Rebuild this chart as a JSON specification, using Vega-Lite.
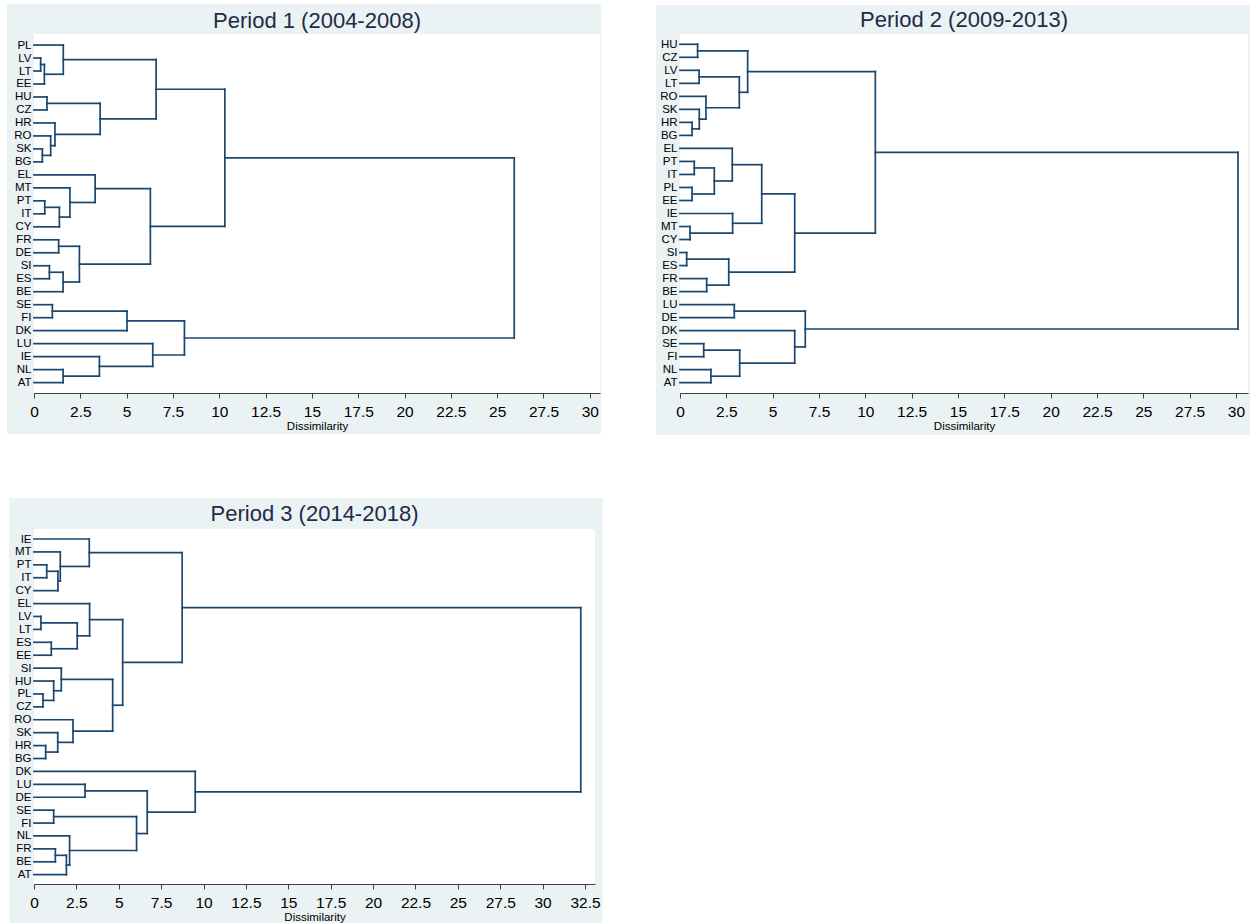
{
  "$schema": "https://vega.github.io/schema/vega-lite/v6.json",
  "background": "#ffffff",
  "padding": {"left": 7, "top": 4, "right": 0, "bottom": 0},
  "datasets": {
    "p1": [
      {"h": 0.36, "y1": 2, "h1": 0, "y2": 3, "h2": 0},
      {"h": 0.56, "y1": 2.5, "h1": 0.36, "y2": 4, "h2": 0},
      {"h": 1.58, "y1": 1, "h1": 0, "y2": 3.25, "h2": 0.56},
      {"h": 0.70, "y1": 5, "h1": 0, "y2": 6, "h2": 0},
      {"h": 0.45, "y1": 9, "h1": 0, "y2": 10, "h2": 0},
      {"h": 0.90, "y1": 8, "h1": 0, "y2": 9.5, "h2": 0.45},
      {"h": 1.13, "y1": 7, "h1": 0, "y2": 8.75, "h2": 0.90},
      {"h": 3.57, "y1": 5.5, "h1": 0.70, "y2": 7.875, "h2": 1.13},
      {"h": 6.59, "y1": 2.125, "h1": 1.58, "y2": 6.6875, "h2": 3.57},
      {"h": 0.58, "y1": 13, "h1": 0, "y2": 14, "h2": 0},
      {"h": 1.37, "y1": 13.5, "h1": 0.58, "y2": 15, "h2": 0},
      {"h": 1.94, "y1": 12, "h1": 0, "y2": 14.25, "h2": 1.37},
      {"h": 3.30, "y1": 11, "h1": 0, "y2": 13.125, "h2": 1.94},
      {"h": 1.33, "y1": 16, "h1": 0, "y2": 17, "h2": 0},
      {"h": 0.83, "y1": 18, "h1": 0, "y2": 19, "h2": 0},
      {"h": 1.57, "y1": 18.5, "h1": 0.83, "y2": 20, "h2": 0},
      {"h": 2.45, "y1": 16.5, "h1": 1.33, "y2": 19.25, "h2": 1.57},
      {"h": 6.28, "y1": 12.0625, "h1": 3.30, "y2": 17.875, "h2": 2.45},
      {"h": 10.30, "y1": 4.40625, "h1": 6.59, "y2": 14.96875, "h2": 6.28},
      {"h": 0.99, "y1": 21, "h1": 0, "y2": 22, "h2": 0},
      {"h": 5.02, "y1": 21.5, "h1": 0.99, "y2": 23, "h2": 0},
      {"h": 1.57, "y1": 26, "h1": 0, "y2": 27, "h2": 0},
      {"h": 3.53, "y1": 25, "h1": 0, "y2": 26.5, "h2": 1.57},
      {"h": 6.41, "y1": 24, "h1": 0, "y2": 25.75, "h2": 3.53},
      {"h": 8.12, "y1": 22.25, "h1": 5.02, "y2": 24.875, "h2": 6.41},
      {"h": 25.92, "y1": 9.6875, "h1": 10.30, "y2": 23.5625, "h2": 8.12}
    ],
    "p2": [
      {"h": 0.95, "y1": 1, "h1": 0, "y2": 2, "h2": 0},
      {"h": 1.03, "y1": 3, "h1": 0, "y2": 4, "h2": 0},
      {"h": 0.65, "y1": 7, "h1": 0, "y2": 8, "h2": 0},
      {"h": 1.04, "y1": 6, "h1": 0, "y2": 7.5, "h2": 0.65},
      {"h": 1.40, "y1": 5, "h1": 0, "y2": 6.75, "h2": 1.04},
      {"h": 3.20, "y1": 3.5, "h1": 1.03, "y2": 5.875, "h2": 1.40},
      {"h": 3.65, "y1": 1.5, "h1": 0.95, "y2": 4.6875, "h2": 3.20},
      {"h": 0.77, "y1": 10, "h1": 0, "y2": 11, "h2": 0},
      {"h": 0.65, "y1": 12, "h1": 0, "y2": 13, "h2": 0},
      {"h": 1.85, "y1": 10.5, "h1": 0.77, "y2": 12.5, "h2": 0.65},
      {"h": 2.82, "y1": 9, "h1": 0, "y2": 11.5, "h2": 1.85},
      {"h": 0.54, "y1": 15, "h1": 0, "y2": 16, "h2": 0},
      {"h": 2.84, "y1": 14, "h1": 0, "y2": 15.5, "h2": 0.54},
      {"h": 4.41, "y1": 10.25, "h1": 2.82, "y2": 14.75, "h2": 2.84},
      {"h": 0.36, "y1": 17, "h1": 0, "y2": 18, "h2": 0},
      {"h": 1.44, "y1": 19, "h1": 0, "y2": 20, "h2": 0},
      {"h": 2.63, "y1": 17.5, "h1": 0.36, "y2": 19.5, "h2": 1.44},
      {"h": 6.19, "y1": 12.5, "h1": 4.41, "y2": 18.5, "h2": 2.63},
      {"h": 10.54, "y1": 3.09375, "h1": 3.65, "y2": 15.5, "h2": 6.19},
      {"h": 2.93, "y1": 21, "h1": 0, "y2": 22, "h2": 0},
      {"h": 1.28, "y1": 24, "h1": 0, "y2": 25, "h2": 0},
      {"h": 1.67, "y1": 26, "h1": 0, "y2": 27, "h2": 0},
      {"h": 3.22, "y1": 24.5, "h1": 1.28, "y2": 26.5, "h2": 1.67},
      {"h": 6.19, "y1": 23, "h1": 0, "y2": 25.5, "h2": 3.22},
      {"h": 6.76, "y1": 21.5, "h1": 2.93, "y2": 24.25, "h2": 6.19},
      {"h": 30.11, "y1": 9.296875, "h1": 10.54, "y2": 22.875, "h2": 6.76}
    ],
    "p3": [
      {"h": 0.75, "y1": 3, "h1": 0, "y2": 4, "h2": 0},
      {"h": 1.41, "y1": 3.5, "h1": 0.75, "y2": 5, "h2": 0},
      {"h": 1.55, "y1": 2, "h1": 0, "y2": 4.25, "h2": 1.41},
      {"h": 3.26, "y1": 1, "h1": 0, "y2": 3.125, "h2": 1.55},
      {"h": 0.41, "y1": 7, "h1": 0, "y2": 8, "h2": 0},
      {"h": 1.02, "y1": 9, "h1": 0, "y2": 10, "h2": 0},
      {"h": 2.55, "y1": 7.5, "h1": 0.41, "y2": 9.5, "h2": 1.02},
      {"h": 3.28, "y1": 6, "h1": 0, "y2": 8.5, "h2": 2.55},
      {"h": 0.53, "y1": 13, "h1": 0, "y2": 14, "h2": 0},
      {"h": 1.16, "y1": 12, "h1": 0, "y2": 13.5, "h2": 0.53},
      {"h": 1.61, "y1": 11, "h1": 0, "y2": 12.75, "h2": 1.16},
      {"h": 0.69, "y1": 17, "h1": 0, "y2": 18, "h2": 0},
      {"h": 1.40, "y1": 16, "h1": 0, "y2": 17.5, "h2": 0.69},
      {"h": 2.30, "y1": 15, "h1": 0, "y2": 16.75, "h2": 1.40},
      {"h": 4.64, "y1": 11.875, "h1": 1.61, "y2": 15.875, "h2": 2.30},
      {"h": 5.23, "y1": 7.25, "h1": 3.28, "y2": 13.875, "h2": 4.64},
      {"h": 8.74, "y1": 2.0625, "h1": 3.26, "y2": 10.5625, "h2": 5.23},
      {"h": 3.01, "y1": 20, "h1": 0, "y2": 21, "h2": 0},
      {"h": 1.16, "y1": 22, "h1": 0, "y2": 23, "h2": 0},
      {"h": 1.26, "y1": 25, "h1": 0, "y2": 26, "h2": 0},
      {"h": 1.91, "y1": 25.5, "h1": 1.26, "y2": 27, "h2": 0},
      {"h": 2.10, "y1": 24, "h1": 0, "y2": 26.25, "h2": 1.91},
      {"h": 6.05, "y1": 22.5, "h1": 1.16, "y2": 25.125, "h2": 2.10},
      {"h": 6.68, "y1": 20.5, "h1": 3.01, "y2": 23.8125, "h2": 6.05},
      {"h": 9.51, "y1": 19, "h1": 0, "y2": 22.15625, "h2": 6.68},
      {"h": 32.25, "y1": 6.3125, "h1": 8.74, "y2": 20.578125, "h2": 9.51}
    ]
  },
  "columns": 2,
  "align": "none",
  "spacing": {"row": 61, "column": 53},
  "concat": [
    {
      "width": 566, "height": 359,
      "title": {"text": "Period 1 (2004-2008)", "offset": -28.5, "zindex": 1},
      "layer": [
        {"data": {"values": [{}]}, "mark": {"type": "rect", "color": "#eaf2f3"},
         "encoding": {
           "x": {"datum": -1.457, "type": "quantitative", "scale": {"domain": [0, 30.55], "nice": false, "zero": false},
                 "axis": {"values": [0, 2.5, 5, 7.5, 10, 12.5, 15, 17.5, 20, 22.5, 25, 27.5, 30], "tickCount": 40, "labelExpr": "toString(datum.value)", "title": "Dissimilarity", "zindex": 1,
                          "grid": false, "tickSize": 5, "tickColor": "#404040", "domainColor": "#404040", "labelFont": "Liberation Sans", "labelFontSize": 15.5, "labelColor": "#000000", "labelPadding": 6, "labelFlush": false, "labelOverlap": false,
                          "titleFont": "Liberation Sans", "titleFontSize": 11.5, "titleFontWeight": "normal", "titleColor": "#000000", "titlePadding": 1}},
           "x2": {"datum": 30.6},
           "y": {"datum": -2.16, "type": "quantitative", "scale": {"domain": [0.15, 27.8], "nice": false, "zero": false, "reverse": true},
                 "axis": {"values": [1,2,3,4,5,6,7,8,9,10,11,12,13,14,15,16,17,18,19,20,21,22,23,24,25,26,27], "tickCount": 40, "title": null, "zindex": 1,
                          "grid": false, "ticks": false, "domain": false, "labelFont": "Liberation Sans", "labelFontSize": 11.5, "labelColor": "#000000", "labelPadding": 3, "labelOverlap": false,
                          "labelExpr": "['PL','LV','LT','EE','HU','CZ','HR','RO','SK','BG','EL','MT','PT','IT','CY','FR','DE','SI','ES','BE','SE','FI','DK','LU','IE','NL','AT'][datum.value-1]"}},
           "y2": {"datum": 30.96}}},
        {"data": {"values": [{}]}, "mark": {"type": "rect", "color": "#ffffff"},
         "encoding": {
           "x": {"datum": 0, "type": "quantitative", "scale": {"domain": [0, 30.55], "nice": false, "zero": false}},
           "x2": {"datum": 30.55},
           "y": {"datum": 0.15, "type": "quantitative", "scale": {"domain": [0.15, 27.8], "nice": false, "zero": false, "reverse": true}},
           "y2": {"datum": 27.8}}},
        {"data": {"name": "p1"}, "mark": {"type": "rule"},
         "encoding": {
           "x": {"field": "h", "type": "quantitative", "scale": {"domain": [0, 30.55], "nice": false, "zero": false}},
           "y": {"field": "y1", "type": "quantitative", "scale": {"domain": [0.15, 27.8], "nice": false, "zero": false, "reverse": true}},
           "y2": {"field": "y2"}}},
        {"data": {"name": "p1"}, "mark": {"type": "rule"},
         "encoding": {
           "x": {"field": "h1", "type": "quantitative", "scale": {"domain": [0, 30.55], "nice": false, "zero": false}},
           "x2": {"field": "h"},
           "y": {"field": "y1", "type": "quantitative", "scale": {"domain": [0.15, 27.8], "nice": false, "zero": false, "reverse": true}}}},
        {"data": {"name": "p1"}, "mark": {"type": "rule"},
         "encoding": {
           "x": {"field": "h2", "type": "quantitative", "scale": {"domain": [0, 30.55], "nice": false, "zero": false}},
           "x2": {"field": "h"},
           "y": {"field": "y2", "type": "quantitative", "scale": {"domain": [0.15, 27.8], "nice": false, "zero": false, "reverse": true}}}}
      ]
    },
    {
      "width": 568, "height": 359,
      "title": {"text": "Period 2 (2009-2013)", "offset": -27.2, "zindex": 1},
      "layer": [
        {"data": {"values": [{}]}, "mark": {"type": "rect", "color": "#eaf2f3"},
         "encoding": {
           "x": {"datum": -1.295, "type": "quantitative", "scale": {"domain": [0, 30.65], "nice": false, "zero": false},
                 "axis": {"values": [0, 2.5, 5, 7.5, 10, 12.5, 15, 17.5, 20, 22.5, 25, 27.5, 30], "tickCount": 40, "labelExpr": "toString(datum.value)", "title": "Dissimilarity", "zindex": 1,
                          "grid": false, "tickSize": 5, "tickColor": "#404040", "domainColor": "#404040", "labelFont": "Liberation Sans", "labelFontSize": 15.5, "labelColor": "#000000", "labelPadding": 6, "labelFlush": false, "labelOverlap": false,
                          "titleFont": "Liberation Sans", "titleFontSize": 11.5, "titleFontWeight": "normal", "titleColor": "#000000", "titlePadding": 1}},
           "x2": {"datum": 30.76},
           "y": {"datum": -2.02, "type": "quantitative", "scale": {"domain": [0.21, 27.79], "nice": false, "zero": false, "reverse": true},
                 "axis": {"values": [1,2,3,4,5,6,7,8,9,10,11,12,13,14,15,16,17,18,19,20,21,22,23,24,25,26,27], "tickCount": 40, "title": null, "zindex": 1,
                          "grid": false, "ticks": false, "domain": false, "labelFont": "Liberation Sans", "labelFontSize": 11.5, "labelColor": "#000000", "labelPadding": 3, "labelOverlap": false,
                          "labelExpr": "['HU','CZ','LV','LT','RO','SK','HR','BG','EL','PT','IT','PL','EE','IE','MT','CY','SI','ES','FR','BE','LU','DE','DK','SE','FI','NL','AT'][datum.value-1]"}},
           "y2": {"datum": 31.02}}},
        {"data": {"values": [{}]}, "mark": {"type": "rect", "color": "#ffffff"},
         "encoding": {
           "x": {"datum": 0, "type": "quantitative", "scale": {"domain": [0, 30.65], "nice": false, "zero": false}},
           "x2": {"datum": 30.65},
           "y": {"datum": 0.21, "type": "quantitative", "scale": {"domain": [0.21, 27.79], "nice": false, "zero": false, "reverse": true}},
           "y2": {"datum": 27.79}}},
        {"data": {"name": "p2"}, "mark": {"type": "rule"},
         "encoding": {
           "x": {"field": "h", "type": "quantitative", "scale": {"domain": [0, 30.65], "nice": false, "zero": false}},
           "y": {"field": "y1", "type": "quantitative", "scale": {"domain": [0.21, 27.79], "nice": false, "zero": false, "reverse": true}},
           "y2": {"field": "y2"}}},
        {"data": {"name": "p2"}, "mark": {"type": "rule"},
         "encoding": {
           "x": {"field": "h1", "type": "quantitative", "scale": {"domain": [0, 30.65], "nice": false, "zero": false}},
           "x2": {"field": "h"},
           "y": {"field": "y1", "type": "quantitative", "scale": {"domain": [0.21, 27.79], "nice": false, "zero": false, "reverse": true}}}},
        {"data": {"name": "p2"}, "mark": {"type": "rule"},
         "encoding": {
           "x": {"field": "h2", "type": "quantitative", "scale": {"domain": [0, 30.65], "nice": false, "zero": false}},
           "x2": {"field": "h"},
           "y": {"field": "y2", "type": "quantitative", "scale": {"domain": [0.21, 27.79], "nice": false, "zero": false, "reverse": true}}}}
      ]
    },
    {
      "width": 561, "height": 355,
      "title": {"text": "Period 3 (2014-2018)", "offset": -28.2, "zindex": 1},
      "layer": [
        {"data": {"values": [{}]}, "mark": {"type": "rect", "color": "#eaf2f3"},
         "encoding": {
           "x": {"datum": -1.46, "type": "quantitative", "scale": {"domain": [0, 33.09], "nice": false, "zero": false},
                 "axis": {"values": [0, 2.5, 5, 7.5, 10, 12.5, 15, 17.5, 20, 22.5, 25, 27.5, 30, 32.5], "tickCount": 40, "labelExpr": "toString(datum.value)", "title": "Dissimilarity", "zindex": 1,
                          "grid": false, "tickSize": 5, "tickColor": "#404040", "domainColor": "#404040", "labelFont": "Liberation Sans", "labelFontSize": 15.5, "labelColor": "#000000", "labelPadding": 6, "labelFlush": false, "labelOverlap": false,
                          "titleFont": "Liberation Sans", "titleFontSize": 11.5, "titleFontWeight": "normal", "titleColor": "#000000", "titlePadding": 1}},
           "x2": {"datum": 33.54},
           "y": {"datum": -2.176, "type": "quantitative", "scale": {"domain": [0.225, 27.72], "nice": false, "zero": false, "reverse": true},
                 "axis": {"values": [1,2,3,4,5,6,7,8,9,10,11,12,13,14,15,16,17,18,19,20,21,22,23,24,25,26,27], "tickCount": 40, "title": null, "zindex": 1,
                          "grid": false, "ticks": false, "domain": false, "labelFont": "Liberation Sans", "labelFontSize": 11.5, "labelColor": "#000000", "labelPadding": 3, "labelOverlap": false,
                          "labelExpr": "['IE','MT','PT','IT','CY','EL','LV','LT','ES','EE','SI','HU','PL','CZ','RO','SK','HR','BG','DK','LU','DE','SE','FI','NL','FR','BE','AT'][datum.value-1]"}},
           "y2": {"datum": 31.13}}},
        {"data": {"values": [{}]}, "mark": {"type": "rect", "color": "#ffffff"},
         "encoding": {
           "x": {"datum": 0, "type": "quantitative", "scale": {"domain": [0, 33.09], "nice": false, "zero": false}},
           "x2": {"datum": 33.09},
           "y": {"datum": 0.225, "type": "quantitative", "scale": {"domain": [0.225, 27.72], "nice": false, "zero": false, "reverse": true}},
           "y2": {"datum": 27.72}}},
        {"data": {"name": "p3"}, "mark": {"type": "rule"},
         "encoding": {
           "x": {"field": "h", "type": "quantitative", "scale": {"domain": [0, 33.09], "nice": false, "zero": false}},
           "y": {"field": "y1", "type": "quantitative", "scale": {"domain": [0.225, 27.72], "nice": false, "zero": false, "reverse": true}},
           "y2": {"field": "y2"}}},
        {"data": {"name": "p3"}, "mark": {"type": "rule"},
         "encoding": {
           "x": {"field": "h1", "type": "quantitative", "scale": {"domain": [0, 33.09], "nice": false, "zero": false}},
           "x2": {"field": "h"},
           "y": {"field": "y1", "type": "quantitative", "scale": {"domain": [0.225, 27.72], "nice": false, "zero": false, "reverse": true}}}},
        {"data": {"name": "p3"}, "mark": {"type": "rule"},
         "encoding": {
           "x": {"field": "h2", "type": "quantitative", "scale": {"domain": [0, 33.09], "nice": false, "zero": false}},
           "x2": {"field": "h"},
           "y": {"field": "y2", "type": "quantitative", "scale": {"domain": [0.225, 27.72], "nice": false, "zero": false, "reverse": true}}}}
      ]
    }
  ],
  "config": {
    "view": {"stroke": null},
    "rule": {"color": "#1a476f", "strokeWidth": 1.7, "strokeCap": "square"},
    "title": {"font": "Liberation Sans", "fontSize": 22, "fontWeight": "normal", "color": "#1e2b47", "frame": "group", "anchor": "middle"},
    "axis": {"labelFont": "Liberation Sans", "titleFont": "Liberation Sans", "labelColor": "#000000", "titleColor": "#000000", "titleFontWeight": "normal", "grid": false}
  }
}
